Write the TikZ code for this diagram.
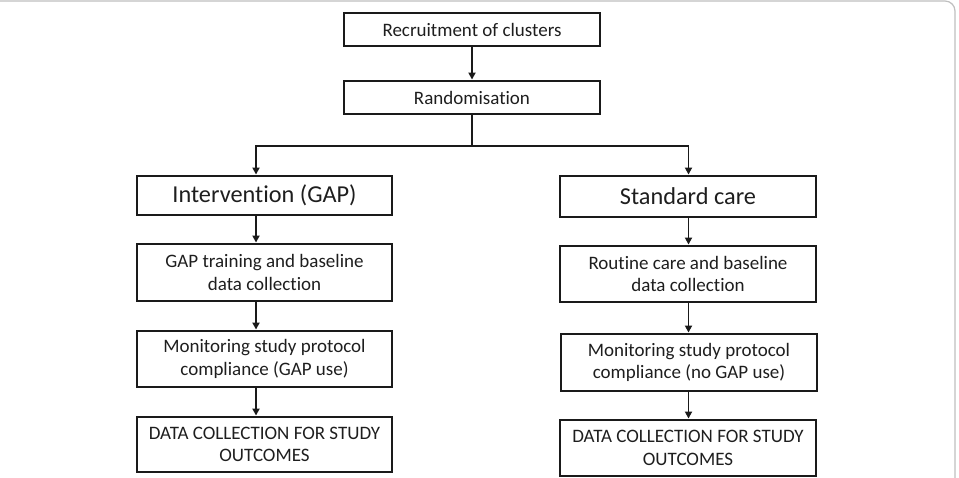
\documentclass[tikz,border=0pt]{standalone}
\usepackage{fontspec}
\setmainfont{Carlito}[Ligatures=NoCommon]
\usetikzlibrary{arrows.meta}
\definecolor{txt}{HTML}{1E1E1E}
\definecolor{edge}{HTML}{1A1A1A}
\begin{document}
\begin{tikzpicture}[x=1pt,y=-1pt,
  box/.style={draw=edge, line width=2.9pt, rectangle, inner sep=0pt, align=center,
    text=txt, font=\fontsize{19}{22.5}\selectfont},
  bigbox/.style={box, font=\fontsize{24.3}{28}\selectfont},
  arr/.style={draw=edge, line width=1.9pt, -{Triangle[length=7pt,width=7pt]}},
  ln/.style={draw=edge, line width=1.9pt}]
\useasboundingbox (0,0) rectangle (959,478);
\draw[gray!50, line width=1.2pt, rounded corners=10pt] (0,1) -- (955,1) -- (955,490);
\node[box, minimum width=256pt, minimum height=33pt] (rec) at (472,29.5) {Recruitment of clusters};
\node[box, minimum width=256pt, minimum height=33pt] (rand) at (472,97.5) {Randomisation};
\node[bigbox, minimum width=255pt, minimum height=39pt] (int) at (264.5,195.5) {Intervention (GAP)};
\node[bigbox, minimum width=256pt, minimum height=41pt] (std) at (688,196.5) {Standard care};
\node[box, minimum width=255pt, minimum height=57pt] (gap) at (264.5,272.5) {GAP training and baseline\\data collection};
\node[box, minimum width=255pt, minimum height=56pt] (monl) at (264.5,359) {Monitoring study protocol\\compliance (GAP use)};
\node[box, minimum width=255pt, minimum height=55pt] (datl) at (264.5,444.5) {DATA COLLECTION FOR STUDY\\OUTCOMES};
\node[box, minimum width=256pt, minimum height=56pt] (rout) at (688,274) {Routine care and baseline\\data collection};
\node[box, minimum width=256pt, minimum height=57pt] (monr) at (689,362.5) {Monitoring study protocol\\compliance (no GAP use)};
\node[box, minimum width=256pt, minimum height=56pt] (datr) at (688,448) {DATA COLLECTION FOR STUDY\\OUTCOMES};
\coordinate (xl) at (256,0);
\coordinate (xr) at (688.5,0);
\coordinate (split) at (472,146);
\draw[arr] (rec) -- (rand);
\draw[ln] (rand.south) -- (split);
\draw[arr] (split) -| (int.north -| xl);
\draw[arr] (split) -| (std.north -| xr);
\draw[arr] (int.south -| xl) -- (gap.north -| xl);
\draw[arr] (gap.south -| xl) -- (monl.north -| xl);
\draw[arr] (monl.south -| xl) -- (datl.north -| xl);
\draw[arr] (std.south -| xr) -- (rout.north -| xr);
\draw[arr] (rout.south -| xr) -- (monr.north -| xr);
\draw[arr] (monr.south -| xr) -- (datr.north -| xr);
\end{tikzpicture}
\end{document}
